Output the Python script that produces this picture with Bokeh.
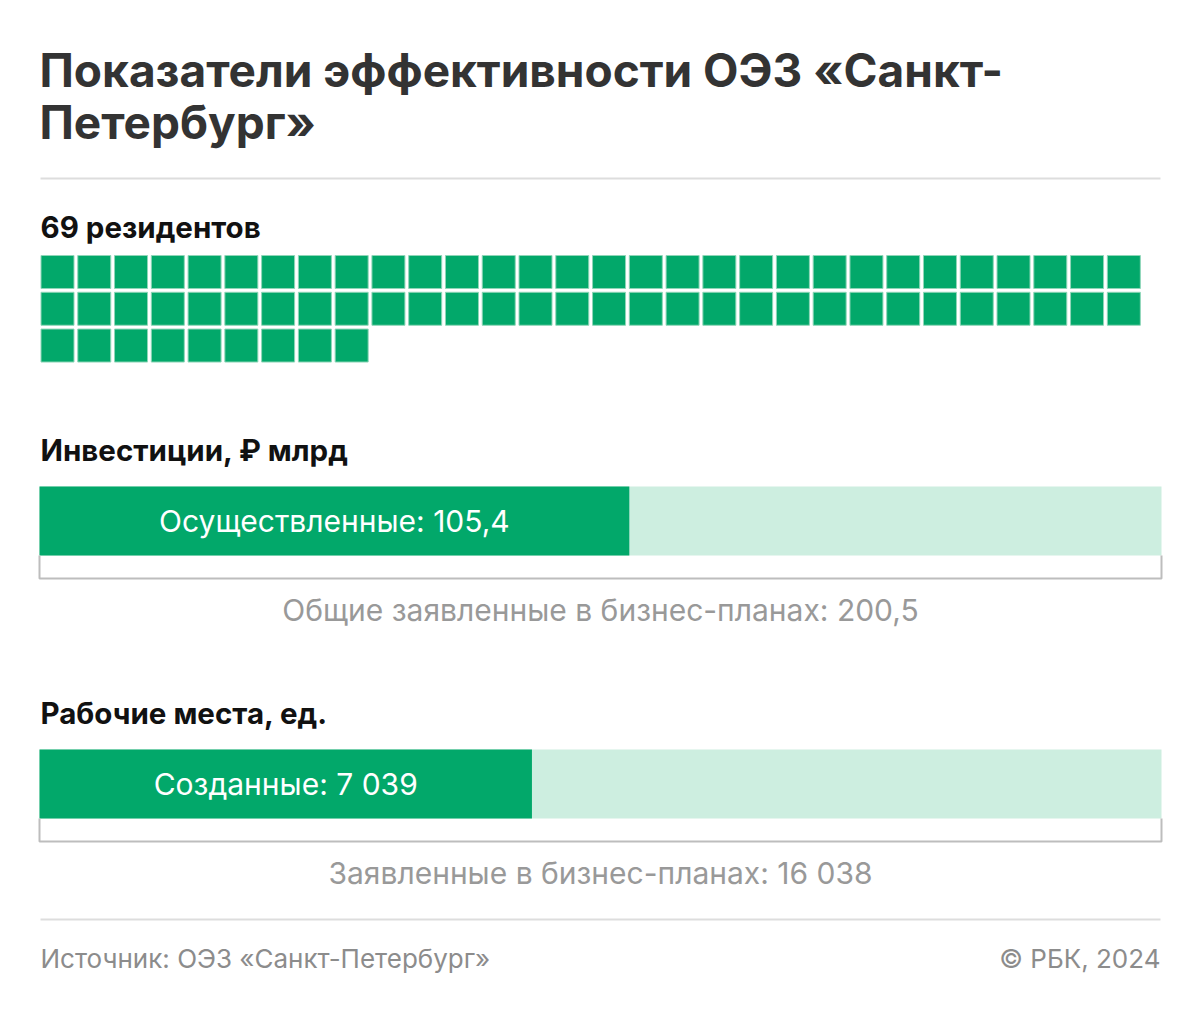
from bokeh.plotting import figure
from bokeh.models import Range1d
from bokeh.core.properties import value
from bokeh.embed import file_html
from bokeh.resources import INLINE

# ---- data ----
title_lines = ["Показатели эффективности ОЭЗ «Санкт-", "Петербург»"]
residents = 69
residents_label = "69 резидентов"
invest_title = "Инвестиции, ₽ млрд"
invest_done = 105.4
invest_total = 200.5
invest_done_label = "Осуществленные: 105,4"
invest_total_label = "Общие заявленные в бизнес-планах: 200,5"
jobs_title = "Рабочие места, ед."
jobs_done = 7039
jobs_total = 16038
jobs_done_label = "Созданные: 7 039"
jobs_total_label = "Заявленные в бизнес-планах: 16 038"
source_label = "Источник: ОЭЗ «Санкт-Петербург»"
copyright_label = "© РБК, 2024"

W, H = 1184, 997
FONT = "Inter"
DARK = "#02a86a"
LIGHT = "#cdeee0"


def X(px):
    return px


def Y(py):
    return H - py


p = figure(width=W, height=H, output_backend="svg", toolbar_location=None,
           x_range=Range1d(0, W), y_range=Range1d(0, H), min_border=0)
p.axis.visible = False
p.grid.visible = False
p.outline_line_color = None
p.background_fill_color = "white"
p.border_fill_color = "white"


def txt(x, y, s, size, color, bold=False, align="left", baseline="middle"):
    p.text(x=[X(x)], y=[Y(y)], text=[s], text_font=value(FONT),
           text_font_size=f"{size}px", text_color=color,
           text_font_style="bold" if bold else "normal",
           text_align=align, text_baseline=baseline)


# title
txt(39, 69, title_lines[0], 46, "#333333", bold=True)
txt(39, 121, title_lines[1], 46, "#333333", bold=True)

# separators
p.line(x=[X(40), X(1160)], y=[Y(178), Y(178)], line_color="#dddddd", line_width=2)
p.line(x=[X(40), X(1160)], y=[Y(919), Y(919)], line_color="#dddddd", line_width=2)

# residents grid
txt(40, 226, residents_label, 29.5, "#111111", bold=True)
cols = 30
pitch = 36.77
size = 33
xs, ys = [], []
for i in range(residents):
    c, r = i % cols, i // cols
    xs.append(X(40.5 + c * pitch + size / 2))
    ys.append(Y(255 + r * pitch + size / 2))
p.rect(x=xs, y=ys, width=size, height=size, fill_color=DARK,
       line_color="#8fd6b8", line_width=1)

# progress bars
bar_x0, bar_x1 = 39, 1161


def progress(top, title_y, title, done, total, done_label, total_label):
    txt(40, title_y, title, 29.5, "#111111", bold=True)
    scale = (bar_x1 - bar_x0) / total
    done_end = bar_x0 + done * scale
    total_end = bar_x0 + total * scale
    bh = 69
    p.quad(left=[X(bar_x0)], right=[X(total_end)], top=[Y(top)], bottom=[Y(top + bh)],
           fill_color=LIGHT, line_color=None)
    p.quad(left=[X(bar_x0)], right=[X(done_end)], top=[Y(top)], bottom=[Y(top + bh)],
           fill_color=DARK, line_color=None)
    # bracket
    p.line(x=[X(bar_x0), X(bar_x0), X(total_end), X(total_end)],
           y=[Y(top + bh), Y(top + bh + 23), Y(top + bh + 23), Y(top + bh)],
           line_color="#bdbdbd", line_width=2)
    txt((bar_x0 + done_end) / 2, top + bh / 2, done_label, 30, "white", align="center")
    txt((bar_x0 + total_end) / 2, top + bh + 54, total_label, 30, "#999999", align="center")


progress(486, 449, invest_title, invest_done, invest_total, invest_done_label, invest_total_label)
progress(749, 712, jobs_title, jobs_done, jobs_total, jobs_done_label, jobs_total_label)

# footer
txt(40, 958, source_label, 26, "#8c8c8c")
txt(1160, 958, copyright_label, 26, "#8c8c8c", align="right")

open("out.html", "w").write(file_html(p, INLINE))
